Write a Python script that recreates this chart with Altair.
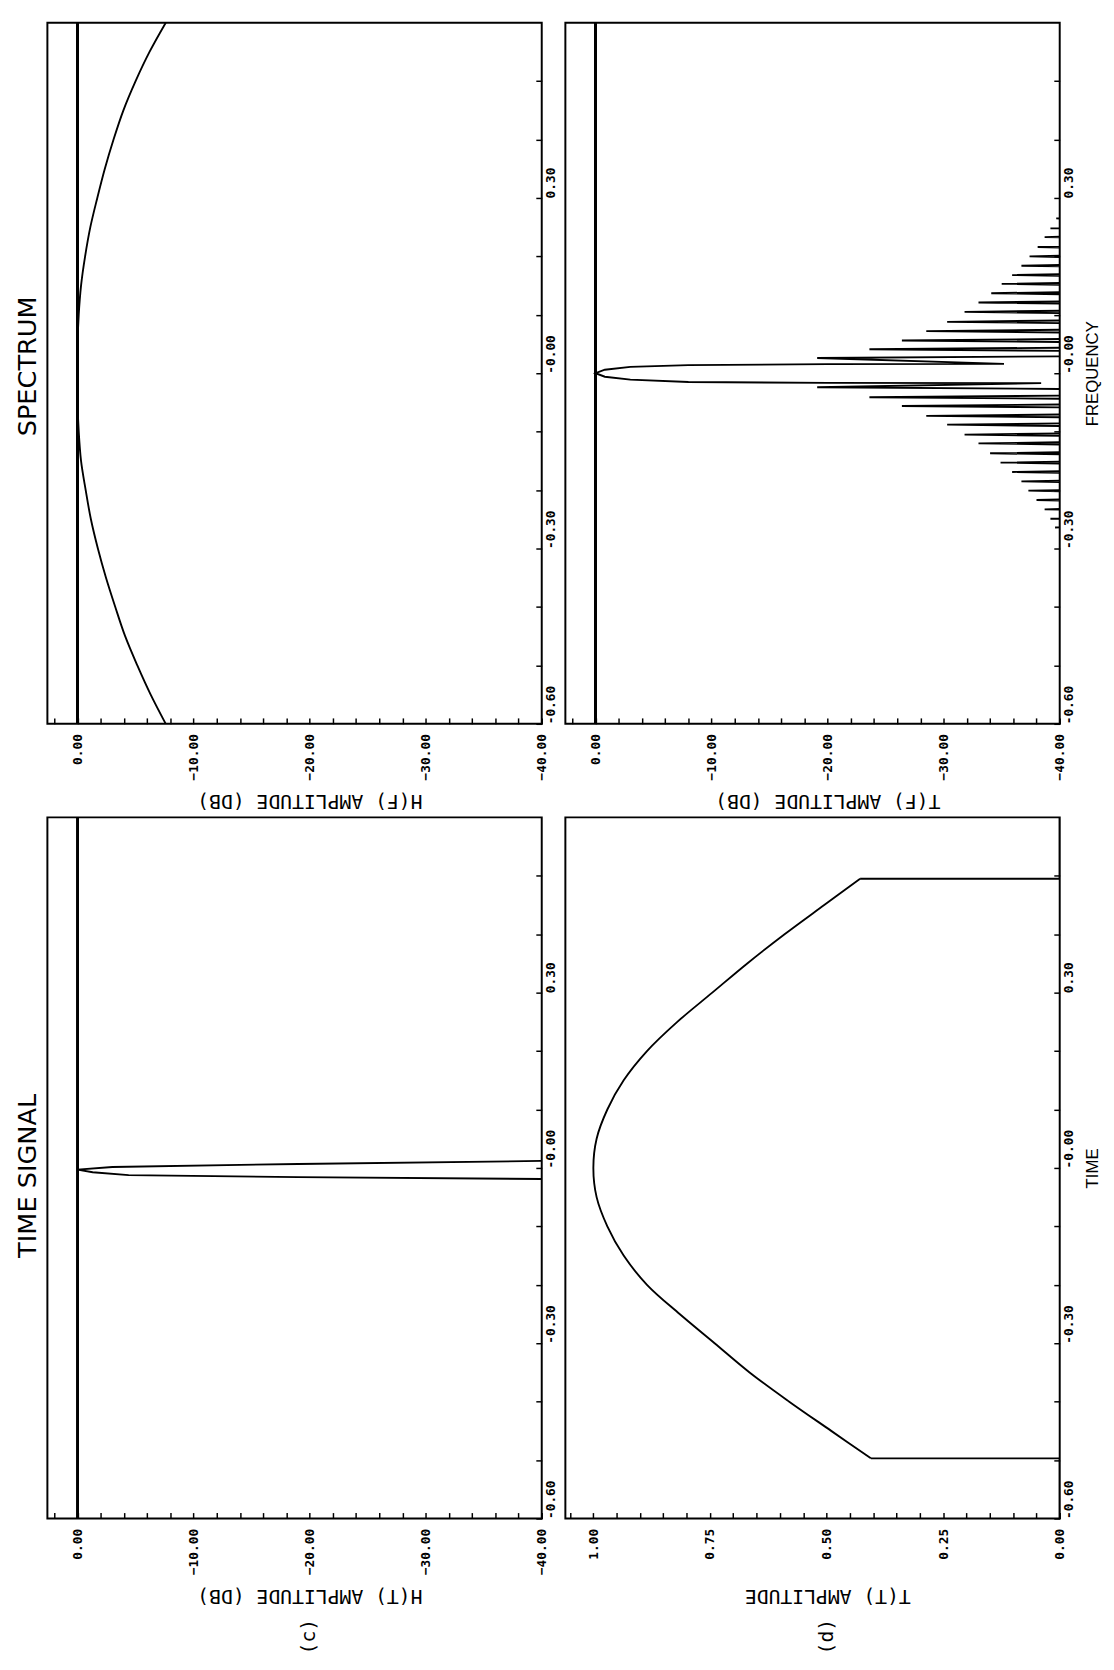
import altair as alt
import pandas as pd

# ---------------- data ----------------
# top-left: H(F) amplitude (dB) versus frequency
HF_FREQ = [0.6, 0.55, 0.5, 0.45, 0.4, 0.35, 0.3, 0.25, 0.2, 0.15, 0.1, 0.05, 0.0,
           -0.05, -0.1, -0.15, -0.2, -0.25, -0.3, -0.35, -0.4, -0.45, -0.5, -0.55, -0.6]
HF_DB = [-7.6, -6.2, -5.0, -3.95, -3.1, -2.35, -1.7, -1.1, -0.65, -0.3, -0.1, 0.0, 0.0,
         0.0, -0.1, -0.3, -0.7, -1.15, -1.75, -2.45, -3.25, -4.1, -5.15, -6.3, -7.6]

# top-right: T(F) amplitude (dB) versus frequency
TF_POS_PEAK_F = [0.265, 0.248, 0.233, 0.216, 0.200, 0.184, 0.168, 0.153, 0.137, 0.121,
                 0.105, 0.088, 0.072, 0.056, 0.041, 0.026]
TF_POS_PEAK_DB = [-39.7, -39.2, -38.7, -38.1, -37.4, -36.7, -35.9, -35.0, -34.1, -33.0,
                  -31.8, -30.3, -28.5, -26.4, -23.6, -19.1]
TF_MAIN_F = [0.0160, 0.0155, 0.0140, 0.0110, 0.0060, 0.0, -0.0060, -0.0110, -0.0150, -0.0165, -0.0170]
TF_MAIN_DB = [-35.2, -20.0, -8.0, -3.0, -0.8, 0.0, -0.8, -3.0, -8.0, -20.0, -38.4]
TF_NEG_PEAK_F = [-0.024, -0.041, -0.056, -0.073, -0.088, -0.105, -0.120, -0.137, -0.153,
                 -0.169, -0.185, -0.201, -0.217, -0.233, -0.249, -0.264]
TF_NEG_PEAK_DB = [-19.1, -23.6, -26.4, -28.5, -30.3, -31.8, -33.0, -34.0, -34.9,
                  -35.9, -36.7, -37.3, -38.0, -38.7, -39.2, -39.6]
TF_LOBE_HALF = 0.004     # half width of a sidelobe where it runs out of the frame
TF_FLOOR_DB = -48        # level between the sidelobes (below the -40 dB frame)

# bottom-left: H(T) amplitude (dB) versus time
HT_TIME = [0.6, 0.0125, 0.012, 0.0068, 0.0017, -0.003, -0.0073, -0.0123, -0.0157, -0.019, -0.0195, -0.6]
HT_DB = [-48, -42, -40, -19, -3, 0, -1.3, -4.4, -19, -40, -42, -48]

# bottom-right: T(T) amplitude versus time (smooth window + flat pedestal edges)
TT_CURVE_TIME = [0.495, 0.45, 0.40, 0.35, 0.30, 0.25, 0.20, 0.15, 0.10, 0.05, 0.0,
                 -0.05, -0.10, -0.15, -0.20, -0.25, -0.30, -0.35, -0.40, -0.45, -0.497]
TT_CURVE_AMP = [0.428, 0.505, 0.59, 0.67, 0.745, 0.82, 0.885, 0.935, 0.97, 0.993, 1.0,
                0.993, 0.97, 0.935, 0.885, 0.815, 0.74, 0.665, 0.58, 0.49, 0.405]
TT_TOP_TIME = [0.6, 0.495, 0.495]
TT_TOP_AMP = [0.0, 0.0, 0.428]
TT_BOT_TIME = [-0.497, -0.497, -0.6]
TT_BOT_AMP = [0.405, 0.0, 0.0]

# axes
DB_TICKS = [2, 0, -2, -4, -6, -8, -10, -12, -14, -16, -18, -20, -22, -24, -26, -28,
            -30, -32, -34, -36, -38, -40]
AMP_TICKS = [1.05, 1.0, 0.95, 0.9, 0.85, 0.8, 0.75, 0.7, 0.65, 0.6, 0.55, 0.5, 0.45,
             0.4, 0.35, 0.3, 0.25, 0.2, 0.15, 0.1, 0.05, 0.0]
TIME_TICKS = [0.5, 0.4, 0.3, 0.2, 0.1, 0.0, -0.1, -0.2, -0.3, -0.4, -0.5, -0.6]

SIDE_TITLES = ["SPECTRUM", "TIME SIGNAL"]
PANEL_LETTERS = ["(c)", "(d)"]
X_TITLES = ["H(F) AMPLITUDE (DB)", "T(F) AMPLITUDE (DB)", "H(T) AMPLITUDE (DB)", "T(T) AMPLITUDE"]
Y_TITLES = ["FREQUENCY", "TIME"]

# ---------------- build the T(F) trace from the read peaks ----------------
tf_f, tf_db = [0.6], [TF_FLOOR_DB]
for k, (f, d) in enumerate(zip(TF_POS_PEAK_F, TF_POS_PEAK_DB)):
    tf_f += [f + TF_LOBE_HALF, f]
    tf_db += [TF_FLOOR_DB, d]
    if k < len(TF_POS_PEAK_F) - 1:
        tf_f.append(f - TF_LOBE_HALF)
        tf_db.append(TF_FLOOR_DB)
tf_f += TF_MAIN_F
tf_db += TF_MAIN_DB
for k, (f, d) in enumerate(zip(TF_NEG_PEAK_F, TF_NEG_PEAK_DB)):
    if k > 0:
        tf_f.append(f + TF_LOBE_HALF)
        tf_db.append(TF_FLOOR_DB)
    tf_f += [f, f - TF_LOBE_HALF]
    tf_db += [d, TF_FLOOR_DB]
tf_f.append(-0.6)
tf_db.append(TF_FLOOR_DB)

# ---------------- chart ----------------
W, H = 502, 712
MONO = "DejaVu Sans Mono"
SANS = "DejaVu Sans"

DB_EXPR = "datum.value % 10 == 0 ? format(datum.value, '.2f') : ''"
AMP_EXPR = "round(datum.value * 100) % 25 == 0 ? format(datum.value, '.2f') : ''"
TIME_EXPR = ("abs(datum.value - 0.3) < 0.01 ? '0.30' : abs(datum.value) < 0.01 ? '-0.00' : "
             "abs(datum.value + 0.3) < 0.01 ? '-0.30' : abs(datum.value + 0.6) < 0.01 ? '-0.60' : ''")

DB_SCALE = alt.Scale(domain=[2.6, -40], nice=False, zero=False)
T_SCALE = alt.Scale(domain=[-0.6, 0.6], nice=False, zero=False)
AMP_SCALE = alt.Scale(domain=[1.06, 0], nice=False, zero=False)


def bottom_axis(values, expr, title):
    return alt.Axis(values=values, labelExpr=expr, title=title, orient="bottom",
                    offset=-6, tickSize=6, domain=False, grid=False,
                    tickColor="black", tickWidth=1.5,
                    labelAngle=270, labelAlign="right", labelBaseline="middle",
                    labelPadding=10, labelFont=MONO, labelFontSize=13,
                    labelFontWeight="bold", labelColor="black",
                    labelOverlap=False, labelFlush=False,
                    titleAngle=180, titleBaseline="bottom", titleAlign="center",
                    titleX=266, titleY=74, titleFont=MONO, titleFontSize=20,
                    titleFontWeight="normal", titleColor="black")


def right_axis(title=None):
    kw = dict(values=TIME_TICKS, labelExpr=TIME_EXPR, orient="right",
              offset=-6, tickSize=6, domain=False, grid=False,
              tickColor="black", tickWidth=1.5,
              labelAngle=270, labelAlign="left", labelBaseline="top",
              labelPadding=3, labelFont=MONO, labelFontSize=13,
              labelFontWeight="bold", labelColor="black",
              labelOverlap=False, labelFlush=False)
    if title:
        kw.update(title=title, titleAngle=270, titleBaseline="top", titleAlign="center",
                  titleFont="Liberation Sans", titleFontSize=17, titleFontWeight="normal",
                  titleColor="black", titlePadding=9)
    else:
        kw.update(title="")
    return alt.Axis(**kw)


def db_panel(freq, db, xtitle, ytitle=None, smooth=False, width=1.9):
    df = pd.DataFrame({"f": freq, "v": db, "i": list(range(len(freq)))})
    xax = bottom_axis(DB_TICKS, DB_EXPR, xtitle)
    line = alt.Chart(df).mark_line(
        color="black", strokeWidth=width, clip=True,
        interpolate="catmull-rom" if smooth else "linear",
    ).encode(
        x=alt.X("v:Q", scale=DB_SCALE, axis=xax),
        y=alt.Y("f:Q", scale=T_SCALE, axis=right_axis(ytitle)),
        order="i:Q",
    )
    rule = alt.Chart(df).mark_rule(color="black", strokeWidth=1.6).encode(
        x=alt.X(datum=0, scale=DB_SCALE, axis=xax))
    return [line, rule]


def side_title(text, ypos):
    return alt.Chart(pd.DataFrame({"t": [text]})).mark_text(
        angle=270, font=SANS, fontSize=26, color="black", align="center", baseline="middle"
    ).encode(text="t:N", x=alt.value(-20), y=alt.value(ypos))


def letter(text):
    return alt.Chart(pd.DataFrame({"t": [text]})).mark_text(
        angle=270, font=MONO, fontSize=20, color="black", align="center", baseline="middle"
    ).encode(text="t:N", x=alt.value(266), y=alt.value(H + 120))


tl = alt.layer(*db_panel(HF_FREQ, HF_DB, X_TITLES[0], smooth=True),
               side_title(SIDE_TITLES[0], 349)).properties(width=W, height=H)
tr = alt.layer(*db_panel(tf_f, tf_db, X_TITLES[1], Y_TITLES[0], width=1.9)).properties(width=W, height=H)
bl = alt.layer(*db_panel(HT_TIME, HT_DB, X_TITLES[2]), side_title(SIDE_TITLES[1], 364),
               letter(PANEL_LETTERS[0])).properties(width=W, height=H)

tt_curve = pd.DataFrame({"t": TT_CURVE_TIME, "a": TT_CURVE_AMP, "i": list(range(len(TT_CURVE_TIME)))})
tt_edges = pd.DataFrame({
    "t": TT_TOP_TIME + TT_BOT_TIME,
    "a": TT_TOP_AMP + TT_BOT_AMP,
    "seg": ["top"] * len(TT_TOP_TIME) + ["bottom"] * len(TT_BOT_TIME),
    "i": list(range(len(TT_TOP_TIME) + len(TT_BOT_TIME))),
})
amp_axis = bottom_axis(AMP_TICKS, AMP_EXPR, X_TITLES[3])
t_axis = right_axis(Y_TITLES[1])
tt_line = alt.Chart(tt_curve).mark_line(color="black", strokeWidth=1.9, clip=True,
                                        interpolate="catmull-rom").encode(
    x=alt.X("a:Q", scale=AMP_SCALE, axis=amp_axis),
    y=alt.Y("t:Q", scale=T_SCALE, axis=t_axis),
    order="i:Q",
)
tt_edge = alt.Chart(tt_edges).mark_line(color="black", strokeWidth=1.9, clip=True).encode(
    x=alt.X("a:Q", scale=AMP_SCALE, axis=amp_axis),
    y=alt.Y("t:Q", scale=T_SCALE, axis=t_axis),
    detail="seg:N",
    order="i:Q",
)
br = alt.layer(tt_line, tt_edge, letter(PANEL_LETTERS[1])).properties(width=W, height=H)

chart = alt.concat(tl, tr, bl, br, columns=2, spacing={"row": 95, "column": 24},
                   bounds="flush").properties(
    padding={"left": 6, "top": 0, "right": 5, "bottom": 5},
    background="white",
).configure_view(stroke="black", strokeWidth=2)

chart.save("out.html", embed_options={"renderer": "svg", "actions": False})
